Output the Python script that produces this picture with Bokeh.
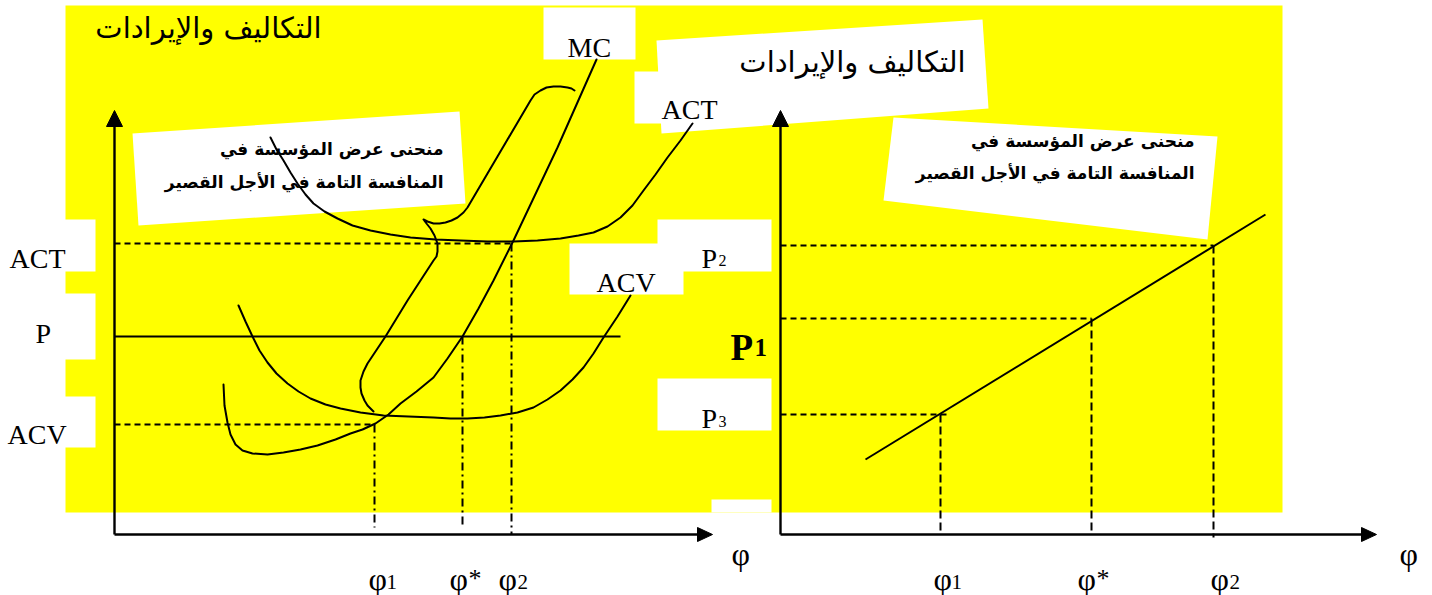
from bokeh.plotting import figure
from bokeh.models import Range1d
from bokeh.core.properties import value
from bokeh.embed import file_html
from bokeh.resources import INLINE

# ---------------- data (diagram coordinates: x to the right, y downward) -------------
# left panel curves
mc_x = [223, 224, 227, 230, 235, 242, 252, 267, 283, 300, 317, 335, 350, 362, 375, 388, 400, 416, 433, 447, 462, 478, 493, 513, 557, 596]
mc_y = [384, 405, 422, 434, 444, 450, 453, 454, 452, 449, 445, 439, 433, 429, 423, 414, 403, 391, 377, 358, 336, 308, 280, 240, 147, 59]

act_x = [270, 276, 283, 290, 297, 305, 313, 324, 337, 352, 370, 390, 410, 435, 460, 487, 513, 537, 560, 578, 593, 607, 620, 632, 643, 655, 667, 680, 692]
act_y = [137, 149, 160, 172, 183, 194, 203, 211, 218, 225, 230, 234, 237, 239, 240, 241, 241, 240, 238, 235, 232, 226, 217, 205, 190, 174, 157, 140, 123]

acv_x = [238, 245, 252, 259, 267, 276, 287, 298, 310, 325, 340, 360, 383, 408, 433, 450, 467, 484, 500, 517, 533, 547, 560, 572, 583, 593, 603, 617, 630]
acv_y = [305, 321, 336, 350, 362, 373, 383, 391, 398, 404, 408, 412, 415, 416, 417, 418, 418, 417, 415, 412, 407, 399, 390, 379, 367, 353, 337, 316, 295]

# short-run supply curve marker (brace drawn along MC)
sup_x = [574, 571, 567, 560, 553, 546, 540, 534, 530, 467, 463, 457, 451, 445, 439, 433, 427, 423, 426, 430, 434, 437, 437, 436, 433, 407, 385, 367, 363, 360, 360, 361, 364, 367, 373]
sup_y = [90, 88, 87, 86, 86, 87, 90, 94, 100, 207, 212, 217, 220, 222, 223, 223, 221, 219, 223, 228, 235, 243, 251, 256, 260, 300, 336, 363, 371, 380, 387, 393, 400, 405, 411]

# left panel price levels and quantities
left_level_names = ["ACT", "P", "ACV"]
left_level_y = [243, 336, 424]
left_q_x = [374, 462, 511]

# right panel: short-run supply line and price/quantity levels
supply_x = [865, 1265]
supply_y = [459, 214]
right_level_y = [245, 318, 414]
right_q_x = [1213, 1091, 940]

# texts
title_ar = "التكاليف والإيرادات"
note_ar_1 = "منحنى عرض المؤسسة في"
note_ar_2 = "المنافسة التامة في الأجل القصير"

# ---------------- figure --------------------------------------------------------------
W, H = 1432, 595
p = figure(width=W, height=H, x_range=Range1d(0, W), y_range=Range1d(H, 0),
           output_backend="svg", toolbar_location=None, min_border=0,
           x_axis_location=None, y_axis_location=None)
p.grid.visible = False
p.outline_line_color = None
p.background_fill_color = "white"
p.border_fill_color = "white"

YEL = "#FFFF00"
SERIF = value("Liberation Serif")
ARAB = value("DejaVu Sans")

# yellow background
p.quad(left=[65], right=[1282], top=[5], bottom=[512], fill_color=YEL, line_color=None)

# white label boxes
box_l = [0, 0, 0, 543, 634, 569, 657, 657, 711]
box_r = [95, 95, 95, 635, 700, 683, 771, 771, 771]
box_t = [219, 293, 396, 7, 71, 243, 219, 378, 499]
box_b = [271, 359, 447, 59, 123, 294, 271, 430, 512]
p.quad(left=box_l, right=box_r, top=box_t, bottom=box_b, fill_color="white", line_color=None)

# tilted white boxes (annotations / title)
p.patches(xs=[[132, 459, 465, 138], [656, 982, 988, 661], [893, 1217, 1207, 883]],
          ys=[[133, 111, 203, 225], [40, 19, 108, 133], [117, 136, 239, 200]],
          fill_color="white", line_color=None)

# ---------------- left panel ----------------------------------------------------------
lx0, ly0 = 114, 534
DASH_W = 2
p.line([lx0, left_q_x[2] + 1], [left_level_y[0]] * 2, line_color="black", line_width=DASH_W, line_dash="6 4")
p.line([lx0, 620], [left_level_y[1]] * 2, line_color="black", line_width=2)
p.line([lx0, left_q_x[0]], [left_level_y[2]] * 2, line_color="black", line_width=DASH_W, line_dash="6 4")
p.line([left_q_x[0]] * 2, [left_level_y[2], 527], line_color="black", line_width=DASH_W, line_dash="8 4 2 4")
p.line([left_q_x[1]] * 2, [left_level_y[1], 527], line_color="black", line_width=DASH_W, line_dash="8 4 2 4")
p.line([left_q_x[2]] * 2, [left_level_y[0], 534], line_color="black", line_width=DASH_W, line_dash="8 4 2 4")

for xs, ys in [(mc_x, mc_y), (act_x, act_y), (acv_x, acv_y), (sup_x, sup_y)]:
    p.line(xs, ys, line_color="black", line_width=2, line_join="round", line_cap="round")

p.line([lx0, lx0], [ly0, 124], line_color="black", line_width=2.4)
p.line([lx0, 698], [ly0, ly0], line_color="black", line_width=2.4)

# ---------------- right panel ---------------------------------------------------------
rx0, ry0 = 780, 534
p.line(supply_x, supply_y, line_color="black", line_width=2)
p.line([rx0, right_q_x[0]], [right_level_y[0]] * 2, line_color="black", line_width=DASH_W, line_dash="6 4")
p.line([rx0, right_q_x[1]], [right_level_y[1]] * 2, line_color="black", line_width=DASH_W, line_dash="6 4")
p.line([rx0, right_q_x[2] + 9], [right_level_y[2]] * 2, line_color="black", line_width=DASH_W, line_dash="6 4")
p.line([right_q_x[0]] * 2, [right_level_y[0], 537], line_color="black", line_width=DASH_W, line_dash="8 4")
p.line([right_q_x[1]] * 2, [right_level_y[1], 534], line_color="black", line_width=DASH_W, line_dash="8 4")
p.line([right_q_x[2]] * 2, [right_level_y[2], 534], line_color="black", line_width=DASH_W, line_dash="8 4")

p.line([rx0, rx0], [ry0, 124], line_color="black", line_width=2.4)
p.line([rx0, 1362], [ry0, ry0], line_color="black", line_width=2.4)

# arrow heads
p.patches(xs=[[lx0 - 8, lx0, lx0 + 8], [697, 712, 697], [rx0 - 8, rx0, rx0 + 8], [1361, 1376, 1361]],
          ys=[[126, 110, 126], [ly0 - 7, ly0, ly0 + 7], [126, 110, 126], [ry0 - 7, ry0, ry0 + 7]],
          fill_color="black", line_color="black", line_width=1)

# ---------------- texts ---------------------------------------------------------------
p.text(x=[208, 852], y=[27, 61], text=[title_ar, title_ar], text_font=ARAB,
       text_font_size=value("29px"), text_align="center", text_baseline="middle", text_color="black")
p.text(x=[443, 443, 1194, 1194], y=[148, 181, 140, 172],
       text=[note_ar_1, note_ar_2, note_ar_1, note_ar_2], text_font=ARAB,
       text_font_size=value("17px"), text_font_style="bold", text_align="right",
       text_baseline="middle", text_color="black")

p.text(x=[9, 35, 7, 567, 661, 596], y=[258, 333, 434, 47, 109, 282],
       text=[left_level_names[0], left_level_names[1], left_level_names[2], "MC", "ACT", "ACV"],
       text_font=SERIF, text_font_size=value("28px"), text_baseline="alphabetic", text_color="black")

# right price labels
p.text(x=[701, 701], y=[258, 418], text=["P", "P"], text_font=SERIF, text_font_size=value("28px"),
       text_baseline="alphabetic", text_color="black")
p.text(x=[718, 718], y=[260, 421], text=["2", "3"], text_font=SERIF, text_font_size=value("16px"),
       text_baseline="alphabetic", text_color="black")
p.text(x=[730], y=[347], text=["P"], text_font=SERIF, text_font_size=value("37px"), text_font_style="bold",
       text_baseline="alphabetic", text_color="black")
p.text(x=[754], y=[347], text=["1"], text_font=SERIF, text_font_size=value("25px"), text_font_style="bold",
       text_baseline="alphabetic", text_color="black")

# quantity labels
phi_x = [368, 449, 498, 933, 1077, 1210, 731, 1399]
p.text(x=phi_x, y=[578] * 6 + [553, 553], text=["φ"] * 8, text_font=SERIF, text_font_size=value("32px"),
       text_baseline="alphabetic", text_color="black")
p.text(x=[386, 517, 951, 1229], y=[581] * 4, text=["1", "2", "1", "2"], text_font=SERIF,
       text_font_size=value("21px"), text_baseline="alphabetic", text_color="black")
p.text(x=[468, 1096], y=[578, 578], text=["*", "*"], text_font=SERIF, text_font_size=value("26px"),
       text_baseline="alphabetic", text_color="black")

open("out.html", "w").write(file_html(p, INLINE))
